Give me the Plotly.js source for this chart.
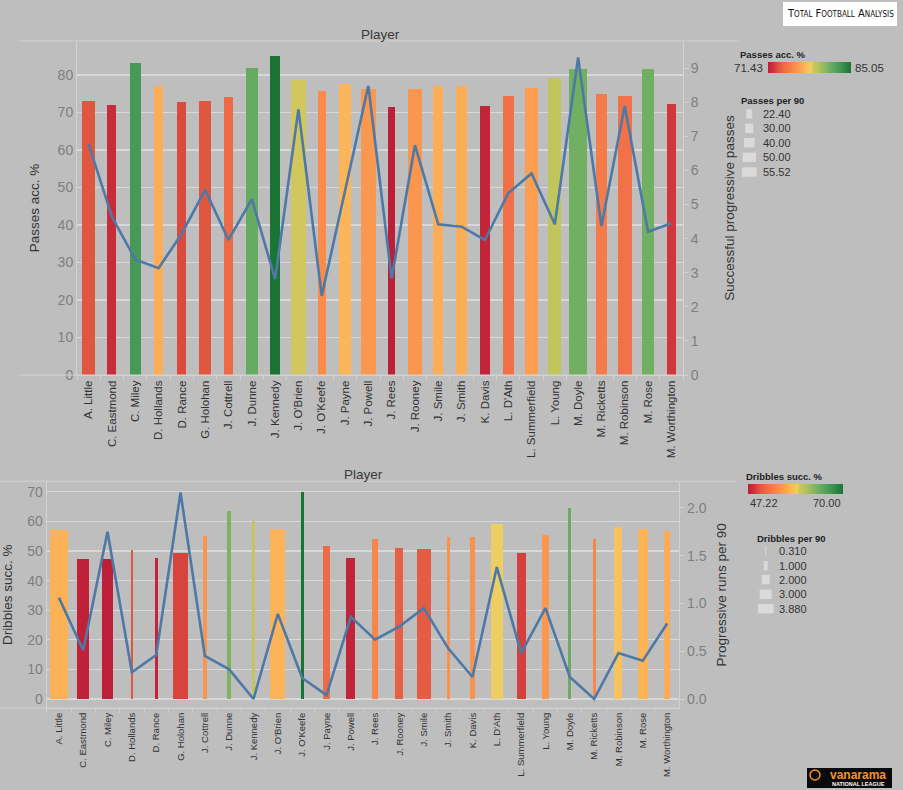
<!DOCTYPE html>
<html><head><meta charset="utf-8">
<script src="https://cdn.plot.ly/plotly-3.0.1.min.js"></script>
<style>html,body{margin:0;padding:0;background:#bebebe;} #chart{width:903px;height:790px;}</style>
</head><body><div id="chart"></div>
<script>
// ---------- DATA ----------
const players = ["A. Little","C. Eastmond","C. Miley","D. Hollands","D. Rance","G. Holohan","J. Cottrell","J. Dunne","J. Kennedy","J. O'Brien","J. O'Keefe","J. Payne","J. Powell","J. Rees","J. Rooney","J. Smile","J. Smith","K. Davis","L. D'Ath","L. Summerfield","L. Young","M. Doyle","M. Ricketts","M. Robinson","M. Rose","M. Worthington"];

const passesAcc   = [73.2,72.0,83.1,77.2,72.9,73.2,74.1,81.8,85.05,78.8,75.7,77.5,76.3,71.43,76.2,77.2,77.2,71.7,74.4,76.5,79.3,81.5,75.0,74.5,81.5,72.4];
const passesPer90 = [40.0,27.7,32.9,28.6,27.7,36.0,28.6,37.9,28.6,46.2,25.5,37.9,46.2,22.4,44.1,30.8,34.8,30.8,33.9,40.0,39.1,55.52,32.9,42.2,39.1,26.7];
const progPasses  = [6.77,4.64,3.39,3.13,4.15,5.43,3.96,5.16,2.81,7.79,2.32,5.41,8.48,2.83,6.74,4.42,4.35,3.96,5.33,5.91,4.42,9.31,4.37,7.89,4.20,4.45];

const dribblesSucc  = [57.1,47.37,47.22,50.2,47.62,49.4,55.1,63.5,60.2,57.3,70.0,51.8,47.5,53.9,50.9,50.6,54.8,54.8,59.1,49.2,55.3,64.4,54.0,58.2,57.3,56.8];
const dribblesPer90 = [3.88,2.50,2.28,0.38,0.53,3.38,0.66,0.66,0.31,3.22,0.44,1.40,1.91,1.19,1.62,3.00,0.53,0.88,2.50,1.91,1.19,0.44,0.53,1.62,2.13,1.25];
const progRuns      = [1.06,0.51,1.75,0.28,0.46,2.16,0.45,0.31,0.0,0.89,0.22,0.04,0.86,0.62,0.76,0.95,0.53,0.23,1.38,0.48,0.95,0.23,0.0,0.48,0.40,0.79];

const passesAccRange   = [71.43, 85.05];
const dribblesSuccRange = [47.22, 70.00];
const passesSizeLegend   = [22.40, 30.00, 40.00, 50.00, 55.52];
const dribblesSizeLegend = [0.310, 1.000, 2.000, 3.000, 3.880];

// ---------- STYLE / GEOMETRY ----------
const W = 903, H = 790;
const px = x => x / W;
const py = y => 1 - y / H;
const BG = '#bebebe', GRID = '#d8d8d8', LINE = '#d2d2d2', BLUE = '#4e79a7';
const FONT = 'Liberation Sans, Arial, sans-serif';

const rdGn = [[0,'#be1f38'],[0.06,'#cc3139'],[0.13,'#e0573f'],[0.2,'#ee6b47'],[0.3,'#f9874a'],[0.4,'#fda553'],[0.46,'#fdba5b'],[0.52,'#efcf63'],[0.545,'#cdc65b'],[0.6,'#b8c45c'],[0.68,'#8bba62'],[0.78,'#5fa862'],[0.88,'#3f9452'],[1,'#1a7434']];

// plot areas in pixels
const topBox = {l:77, r:683, t:41, b:375};
const botBox = {l:46.7, r:679.3, t:481.7, b:708};
const nCat = players.length;
const topCat = (topBox.r - topBox.l) / nCat;
const botCat = (botBox.r - botBox.l) / nCat;

function sizeScale(v, vmin, vmax, pmin, pmax){ return pmin + (v - vmin) / (vmax - vmin) * (pmax - pmin); }
const topWidths = passesPer90.map(v => sizeScale(v, 22.40, 55.52, 7.3, 18) / topCat);
const botWidths = dribblesPer90.map(v => sizeScale(v, 0.31, 3.88, 2.2, 18) / botCat);

const traces = [
  {type:'bar', x:players, y:passesAcc, width:topWidths, xaxis:'x', yaxis:'y',
   marker:{color:passesAcc, coloraxis:'coloraxis', line:{width:0}}, hoverinfo:'x+y'},
  {type:'scatter', mode:'lines', x:players, y:progPasses, xaxis:'x', yaxis:'y2',
   line:{color:BLUE, width:2.6}, hoverinfo:'x+y'},
  {type:'bar', x:players, y:dribblesSucc, width:botWidths, xaxis:'x2', yaxis:'y3',
   marker:{color:dribblesSucc, coloraxis:'coloraxis2', line:{width:0}}, hoverinfo:'x+y'},
  {type:'scatter', mode:'lines', x:players, y:progRuns, xaxis:'x2', yaxis:'y4',
   line:{color:BLUE, width:2.6}, hoverinfo:'x+y'}
];

const tickFont = {family:FONT, size:14, color:'#7f7f7f'};
const titleFont = {family:FONT, size:13.5, color:'#333333'};

const xBase = {type:'category', tickangle:-90, ticks:'outside', tickson:'boundaries', ticklen:4,
  tickcolor:LINE, showline:true, linecolor:LINE, linewidth:1, showgrid:false, zeroline:false,
  range:[-0.5, nCat-0.5], fixedrange:true};

const layout = {
  width:W, height:H, margin:{l:0,r:0,t:0,b:0},
  paper_bgcolor:BG, plot_bgcolor:BG, showlegend:false, bargap:0,
  font:{family:FONT, color:'#333'},
  xaxis: Object.assign({}, xBase, {domain:[px(topBox.l), px(topBox.r)], anchor:'y',
    tickfont:{family:FONT, size:11.5, color:'#333333'}}),
  yaxis: {domain:[py(topBox.b), py(topBox.t)], anchor:'x', range:[0, (topBox.b-topBox.t)/3.75], dtick:10,
    showgrid:true, gridcolor:GRID, gridwidth:1.3, zeroline:false, showline:true, linecolor:LINE,
    tickfont:tickFont, title:{text:'Passes acc. %', font:titleFont, standoff:14}},
  yaxis2: {overlaying:'y', side:'right', anchor:'x', range:[0, (topBox.b-topBox.t)/34.1], dtick:1,
    showgrid:false, zeroline:false, showline:true, linecolor:LINE, ticks:'outside', ticklen:4, tickcolor:LINE,
    tickfont:tickFont, title:{text:'Successful progressive passes', font:titleFont, standoff:26}},
  xaxis2: Object.assign({}, xBase, {domain:[px(botBox.l), px(botBox.r)], anchor:'y3',
    tickfont:{family:FONT, size:9.5, color:'#333333'}}),
  yaxis3: {domain:[py(botBox.b), py(botBox.t)], anchor:'x2', range:[-(botBox.b-699)/2.96, (699-botBox.t)/2.96], dtick:10,
    showgrid:true, gridcolor:GRID, gridwidth:1.3, zeroline:true, zerolinecolor:GRID, zerolinewidth:1.3,
    showline:true, linecolor:LINE, tickfont:tickFont,
    title:{text:'Dribbles succ. %', font:titleFont, standoff:11}},
  yaxis4: {overlaying:'y3', side:'right', anchor:'x2', range:[-(botBox.b-699)/95.6, (699-botBox.t)/95.6], dtick:0.5,
    tickformat:'.1f', showgrid:false, zeroline:false, showline:true, linecolor:LINE, ticks:'outside',
    ticklen:4, tickcolor:LINE, tickfont:tickFont,
    title:{text:'Progressive runs per 90', font:titleFont, standoff:10}},
  coloraxis: {colorscale:rdGn, cmin:passesAccRange[0], cmax:passesAccRange[1], showscale:true,
    colorbar:{orientation:'h', x:px(768), xanchor:'left', y:py(62), yanchor:'top', len:83, lenmode:'pixels',
      thickness:11, thicknessmode:'pixels', showticklabels:false, ticks:'', outlinewidth:0, xpad:0, ypad:0,
      bgcolor:'rgba(0,0,0,0)', borderwidth:0}},
  coloraxis2: {colorscale:rdGn, cmin:dribblesSuccRange[0], cmax:dribblesSuccRange[1], showscale:true,
    colorbar:{orientation:'h', x:px(747.7), xanchor:'left', y:py(484.3), yanchor:'top', len:95, lenmode:'pixels',
      thickness:10, thicknessmode:'pixels', showticklabels:false, ticks:'', outlinewidth:0, xpad:0, ypad:0,
      bgcolor:'rgba(0,0,0,0)', borderwidth:0}},
  shapes: [], annotations: []
};

const S = layout.shapes, A = layout.annotations;
function hline(x0, x1, y){ S.push({type:'line', xref:'paper', yref:'paper', x0:px(x0), x1:px(x1), y0:py(y), y1:py(y), line:{color:LINE, width:1}}); }
hline(19, 740, 41);
hline(19, 683, 375);
hline(0, 736, 481.2);
hline(0, 679.3, 708);

function txt(x, y, text, opts){
  A.push(Object.assign({xref:'paper', yref:'paper', x:px(x), y:py(y), text:text, showarrow:false,
    xanchor:'left', yanchor:'middle', font:{family:FONT, size:11, color:'#333'}}, opts||{}));
}
// Headers
txt(380, 34, 'Player', {xanchor:'center', font:{family:FONT, size:13.5, color:'#3a3a3a'}});
txt(363, 474, 'Player', {xanchor:'center', font:{family:FONT, size:13.5, color:'#3a3a3a'}});

// Top legends
txt(738, 54, '<b>Passes acc. %</b>', {font:{family:FONT, size:9.5, color:'#222'}});
txt(765, 68, passesAccRange[0].toFixed(2), {xanchor:'right', font:{family:FONT, size:11.5, color:'#333'}});
txt(853, 68, passesAccRange[1].toFixed(2), {font:{family:FONT, size:11.5, color:'#333'}});
txt(739, 100, '<b>Passes per 90</b>', {font:{family:FONT, size:9.5, color:'#222'}});
const topRows = [114, 128.3, 142.7, 157.3, 172];
passesSizeLegend.forEach((v, i) => {
  const w = sizeScale(v, 22.40, 55.52, 6, 14.7), cx = 749.3, cy = topRows[i];
  S.push({type:'rect', xref:'paper', yref:'paper', x0:px(cx-w/2), x1:px(cx+w/2), y0:py(cy+4.7), y1:py(cy-4.7),
    fillcolor:'#dadada', line:{width:0}});
  txt(761, cy, v.toFixed(2), {font:{family:FONT, size:11, color:'#333'}});
});

// Bottom legends
txt(744, 476, '<b>Dribbles succ. %</b>', {font:{family:FONT, size:9.5, color:'#222'}});
txt(747.7, 503, dribblesSuccRange[0].toFixed(2), {font:{family:FONT, size:11, color:'#333'}});
txt(843, 503, dribblesSuccRange[1].toFixed(2), {xanchor:'right', font:{family:FONT, size:11, color:'#333'}});
txt(755, 538, '<b>Dribbles per 90</b>', {font:{family:FONT, size:9.5, color:'#222'}});
const botRows = [550.7, 565.7, 579.7, 594.3, 608.7];
dribblesSizeLegend.forEach((v, i) => {
  const w = sizeScale(v, 0.31, 3.88, 1, 15.7), cx = 765.7, cy = botRows[i];
  S.push({type:'rect', xref:'paper', yref:'paper', x0:px(cx-w/2), x1:px(cx+w/2), y0:py(cy+4.7), y1:py(cy-4.7),
    fillcolor:'#dadada', line:{width:0}});
  txt(776.7, cy, v.toFixed(3), {font:{family:FONT, size:11, color:'#333'}});
});

// Watermark
S.push({type:'rect', xref:'paper', yref:'paper', x0:px(783), x1:px(897), y0:py(26), y1:py(2), fillcolor:'#ffffff', line:{width:0}});
txt(840, 14, "T<span style='font-size:8px'>OTAL</span> F<span style='font-size:8px'>OOTBALL</span> A<span style='font-size:8px'>NALYSIS</span>",
  {xanchor:'center', font:{family:'DejaVu Sans Condensed, sans-serif', size:11, color:'#111'}});

// Vanarama logo
S.push({type:'rect', xref:'paper', yref:'paper', x0:px(807), x1:px(892), y0:py(788), y1:py(768), fillcolor:'#0a0a0a', line:{width:0}});
S.push({type:'circle', xref:'paper', yref:'paper', x0:px(810), x1:px(820), y0:py(780), y1:py(770), fillcolor:'rgba(0,0,0,0)', line:{color:'#f7931e', width:1.5}});
txt(858, 775, '<b>vanarama</b>', {xanchor:'center', font:{family:FONT, size:12, color:'#f7931e'}});
txt(858, 783.5, '<b>NATIONAL LEAGUE</b>', {xanchor:'center', font:{family:FONT, size:5.5, color:'#ffffff'}});

Plotly.newPlot('chart', traces, layout, {displayModeBar:false, staticPlot:true});
</script></body></html>
